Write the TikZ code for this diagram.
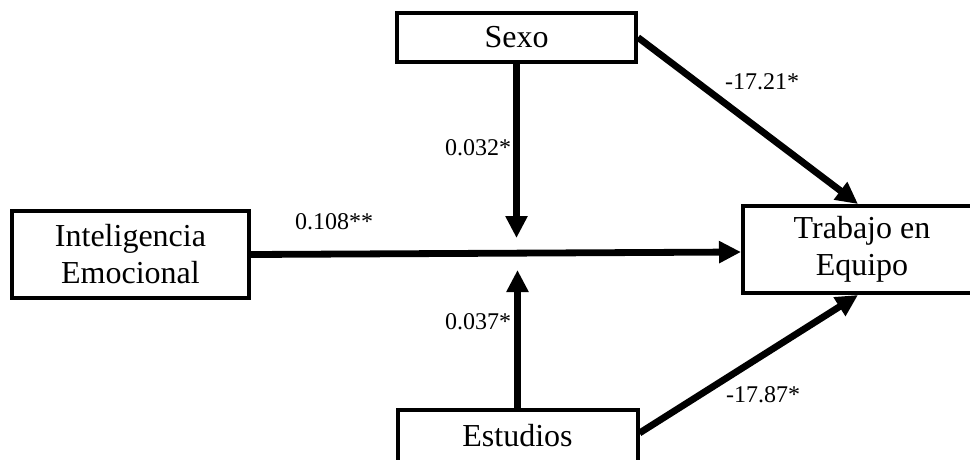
\documentclass[tikz,border=0pt]{standalone}
\usepackage{fontspec}
\setmainfont{Liberation Serif}
\usetikzlibrary{arrows.meta}
\begin{document}
\begin{tikzpicture}[x=1pt,y=-1pt,
  box/.style={draw, line width=4pt, align=center, inner sep=0pt,
    font=\fontsize{32}{37}\selectfont},
  coef/.style={inner sep=0pt, font=\fontsize{24}{28}\selectfont},
  link/.style={line width=6.8pt, -{Triangle[length=22pt,width=21pt]}}]
\useasboundingbox (0,0) rectangle (970,459);
\clip (0,0) rectangle (970,459);
\node[box, minimum width=237pt, minimum height=87pt] (intel) at (130.5,254.5) {Inteligencia\\Emocional};
\node[box, minimum width=238pt, minimum height=87pt] (trab) at (862,249.5) {Trabajo en\\Equipo};
\node[box, minimum width=239pt, minimum height=49pt] (sexo) at (516.5,37.5) {Sexo};
\node[box, minimum width=240pt, minimum height=52pt] (estud) at (517.5,436) {\raisebox{2pt}{Estudios}};
\coordinate (mtop) at (516.5,238);
\coordinate (mbot) at (517.5,270);
\draw[link] (intel.east) -- ([yshift=-2.5pt]trab.west);
\draw[link] (sexo.south) -- (mtop);
\draw[link] (estud.north) -- (mbot);
\draw[link] (sexo.east) -- ([xshift=-4pt]trab.north);
\draw[link] ([yshift=3pt]estud.east) -- ([xshift=-4pt]trab.south);
\node[coef] (c1) at (762,82) {-17.21*};
\node[coef] (c2) at (478,148) {0.032*};
\node[coef] (c3) at (334,222) {0.108**};
\node[coef] (c4) at (478,322) {0.037*};
\node[coef] (c5) at (763,395) {-17.87*};
\end{tikzpicture}
\end{document}
